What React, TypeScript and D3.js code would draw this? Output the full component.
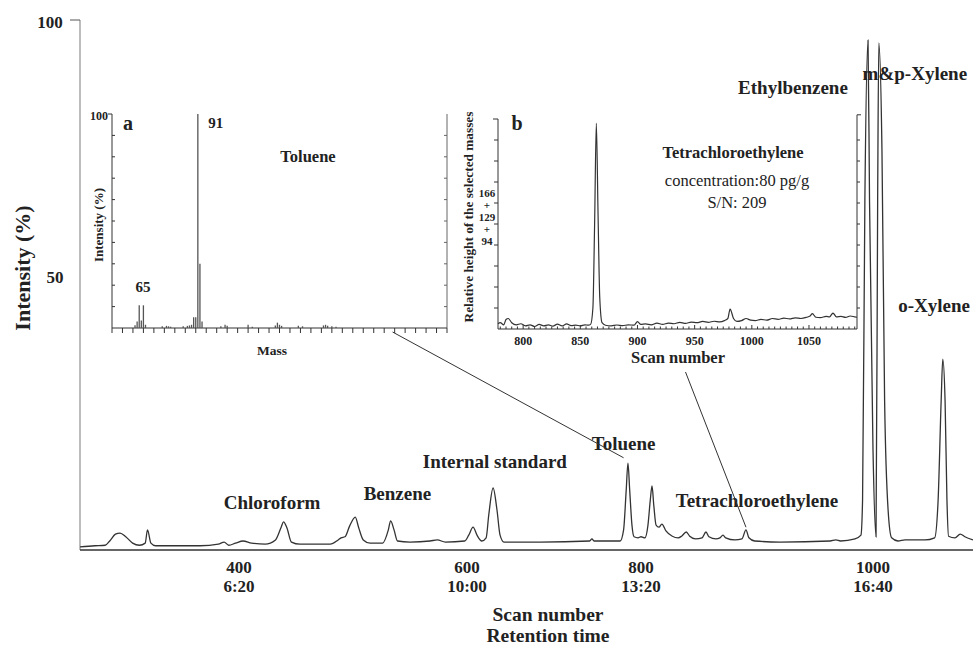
import React, { useEffect, useRef } from 'react';
import * as d3 from 'd3';

// total ion chromatogram, [scan number, intensity %]
const chromatogram: [number, number][] = [
  [261, 0.6], [274, 0.8], [283, 0.9], [287, 1.7], [292, 3.0], [296, 3.2], [301, 2.5], [307, 1.3], [313, 0.9],
  [318, 1.3], [320, 3.8], [323, 1.3], [327, 0.8], [366, 0.8], [382, 1.1], [387, 1.5], [391, 0.9], [397, 1.3],
  [403.5, 1.7], [411, 1.3], [423, 1.1], [432, 1.9], [437, 4.3], [439, 5.3], [442, 4.2], [446, 1.5], [453.5, 1.1],
  [480, 1.1], [487, 1.9], [489.5, 2.3], [493, 2.5], [497, 4.5], [502, 6.2], [505, 4.2], [509, 1.9], [515, 1.3],
  [526, 1.3], [531, 3.8], [533, 5.5], [536, 3.8], [539, 1.7], [550, 1.5], [567.5, 1.7], [574, 1.9], [581, 1.5], [598, 1.7],
  [602, 2.8], [607, 4.3], [611.5, 2.8], [617, 1.7], [622, 2.3], [625, 6.6], [630, 11.7], [634.5, 7.5], [638, 2.8], [642.5, 1.5],
  [684, 1.5], [741, 1.7], [743.6, 2.1], [746, 1.7], [776, 1.7], [780, 3.8], [783, 11.3], [785, 16.4], [787, 11.3], [789.6, 4.7],
  [792, 2.5], [796.6, 2.3], [800, 2.5], [803.4, 2.3], [806, 4.7], [808, 9.4], [809.5, 12.1], [811, 8.5], [813, 4.7], [815.5, 4.3],
  [818, 4.9], [821.5, 3.6], [827, 2.6], [832, 2.3], [835, 2.6], [839, 3.4], [842, 2.6], [847, 2.1], [852.6, 2.3], [856, 3.4],
  [858.6, 2.5], [864.6, 2.1], [868, 2.3], [870.7, 2.8], [873, 2.3], [881, 1.9], [887, 2.1], [890.5, 3.8], [893, 2.3], [898, 1.7],
  [920, 1.5], [963, 1.7], [968, 1.9], [972, 1.7], [984.5, 2.1], [989.6, 2.8], [991, 9.4], [993, 66], [995.7, 96.2], [997, 66],
  [1000, 18.9], [1002.6, 2.5], [1004, 66], [1005, 95.7], [1007.7, 75.5], [1010, 28], [1013, 7.5], [1016, 2.3], [1021.5, 1.7],
  [1027.5, 1.9], [1044.7, 1.9], [1053, 2.3], [1056, 9.4], [1058.6, 28], [1060, 36], [1062, 28], [1063.6, 9.4], [1065, 2.6],
  [1070.5, 2.3], [1075, 3.0], [1079, 2.5], [1086, 1.9],
];

const scanTicks = [400, 600, 800, 1000];
const timeTicks = ['6:20', '10:00', '13:20', '16:40'];

// compound names with the spot (scan, %) where the name sits
const peakNames: { name: string; scan: number; value: number }[] = [
  { name: 'Chloroform', scan: 429, value: 8.9 },
  { name: 'Benzene', scan: 539, value: 10.6 },
  { name: 'Internal standard', scan: 632, value: 16.8 },
  { name: 'Toluene', scan: 780, value: 20.2 },
  { name: 'Tetrachloroethylene', scan: 900, value: 9.4 },
  { name: 'Ethylbenzene', scan: 931, value: 87.2 },
  { name: 'm&p-Xylene', scan: 1036, value: 90 },
  { name: 'o-Xylene', scan: 1052.5, value: 46.2 },
];

// inset a: toluene mass spectrum
const masses = [61, 62, 63, 64, 65, 66, 74, 76, 77, 78, 84, 86, 87, 88, 89, 90, 91, 92, 93, 102, 104, 105,
  115, 117, 128, 129, 130, 131, 139, 141, 151, 152, 153, 155, 157];
const massIntensity = [1.3, 3, 10.6, 3.5, 10.6, 1.5, 0.8, 1, 0.8, 0.6, 0.8, 1, 1.2, 1.5, 5, 5, 100, 30, 3, 0.8, 1.5, 1,
  1.5, 0.6, 1.2, 2.5, 1.5, 1, 1, 0.8, 1.2, 1.5, 1, 0.8, 0.6];

// inset b: selected ion trace (166+129+94), [scan, relative height]
const ionTrace: [number, number][] = [
  [778, 2.5], [780, 3], [783, 2], [785, 4.5], [787, 5], [790, 3], [794, 2], [798, 2.5], [802, 1.5], [806, 2],
  [810, 1.2], [814, 2.2], [818, 1.5], [822, 2], [826, 1.4], [830, 2.3], [834, 1.5], [838, 2.4], [842, 1.6], [846, 1.8],
  [850, 1.5], [854, 2], [857, 1.8], [859, 2.2], [861, 10], [862.5, 50], [864, 98], [865.5, 55], [867, 15], [869, 3],
  [872, 1.8], [877, 1.5], [882, 1.9], [887, 1.6], [892, 2], [897, 1.8], [900, 3.5], [903, 2.2], [907, 2.4], [912, 2],
  [917, 2.8], [922, 2.2], [927, 2.8], [932, 2.5], [937, 3.2], [942, 2.7], [947, 3.3], [952, 3], [957, 3.6], [962, 3.2],
  [967, 3.7], [972, 3.4], [976, 4], [979, 5], [981, 9.5], [984, 5], [987, 3.6], [991, 4], [995, 5], [999, 4.2],
  [1003, 4], [1008, 4.6], [1013, 4.2], [1018, 5], [1023, 4.6], [1028, 5.2], [1033, 4.8], [1038, 5.3], [1043, 5],
  [1048, 5.6], [1051, 6.2], [1053, 7.3], [1056, 5.6], [1060, 5.4], [1065, 6], [1068, 5.8], [1071, 7.6], [1074, 5.8],
  [1078, 6], [1082, 5.5], [1086, 6.2], [1090, 5.8], [1092, 5.6],
];
const ionScanTicks = [800, 850, 900, 950, 1000, 1050];
const selectedMasses = ['166', '+', '129', '+', '94'];

const serif = '"Liberation Serif", "Times New Roman", serif';

const App = () => {
  const svgRef = useRef<SVGSVGElement>(null);

  useEffect(() => {
    const svg = d3.select(svgRef.current);
    svg.selectAll('*').remove();

    const text = (x: number, y: number, s: string, size: number, opts: any = {}) =>
      svg.append('text')
        .attr('x', x)
        .attr('y', y)
        .attr('dy', '0.35em')
        .attr('text-anchor', opts.anchor || 'middle')
        .attr('font-family', serif)
        .attr('font-weight', opts.weight || 'bold')
        .attr('font-size', size)
        .attr('fill', opts.fill || '#222')
        .attr('transform', opts.rotate ? `rotate(-90, ${x}, ${y})` : null)
        .text(s);

    // ---- main chromatogram ----
    const x = d3.scaleLinear()
      .domain([261, 400, 600, 800, 1000, 1086])
      .range([80, 239, 467, 641, 873, 973]);
    const y = d3.scaleLinear().domain([0, 100]).range([550, 20]);

    svg.append('line')
      .attr('x1', x(261)).attr('x2', x(261))
      .attr('y1', y(100)).attr('y2', y(0))
      .attr('stroke', '#999').attr('stroke-width', 1.3);
    svg.append('line')
      .attr('x1', x(261) - 10).attr('x2', x(261))
      .attr('y1', y(100)).attr('y2', y(100))
      .attr('stroke', '#555').attr('stroke-width', 1);
    svg.append('line')
      .attr('x1', x(261)).attr('x2', x(1086))
      .attr('y1', y(0)).attr('y2', y(0))
      .attr('stroke', '#333').attr('stroke-width', 1.3);

    text(x(261) - 30, y(100) + 2, '100', 17);
    text(x(261) - 25, y(50) - 8, '50', 17);
    text(22, 268, 'Intensity (%)', 22, { rotate: true });

    scanTicks.forEach((s, i) => {
      text(x(s), 567, String(s), 17);
      text(x(s), 586, timeTicks[i], 17);
    });
    text(548, 614, 'Scan number', 19.5);
    text(548, 635, 'Retention time', 19.5);

    const line = d3.line<[number, number]>()
      .x(d => x(d[0]))
      .y(d => y(d[1]))
      .curve(d3.curveMonotoneX);

    svg.append('path')
      .datum(chromatogram)
      .attr('d', line)
      .attr('fill', 'none')
      .attr('stroke', '#333')
      .attr('stroke-width', 1.3);

    peakNames.forEach(p => text(x(p.scan), y(p.value), p.name, 19));

    // ---- inset a: mass spectrum ----
    const ax = d3.scaleLinear().domain([50, 210]).range([112, 447]);
    const ay = d3.scaleLinear().domain([0, 100]).range([328, 114]);

    const ga = svg.append('g').attr('stroke', '#333').attr('stroke-width', 1);
    ga.append('line').attr('x1', ax(50)).attr('x2', ax(50)).attr('y1', ay(100)).attr('y2', ay(0));
    ga.append('line').attr('x1', ax(210)).attr('x2', ax(210)).attr('y1', ay(100)).attr('y2', ay(0)).attr('stroke', '#666');
    ga.append('line').attr('x1', ax(50)).attr('x2', ax(210)).attr('y1', ay(0)).attr('y2', ay(0));
    ga.append('line').attr('x1', ax(50) - 4).attr('x2', ax(50)).attr('y1', ay(100)).attr('y2', ay(100));
    d3.range(10, 100, 10).forEach(v => {
      ga.append('line').attr('x1', ax(50)).attr('x2', ax(50) + 3).attr('y1', ay(v)).attr('y2', ay(v));
      ga.append('line').attr('x1', ax(210) - 3).attr('x2', ax(210)).attr('y1', ay(v)).attr('y2', ay(v)).attr('stroke', '#666');
    });
    d3.range(50, 211, 5).forEach(m => {
      ga.append('line').attr('x1', ax(m)).attr('x2', ax(m)).attr('y1', ay(0)).attr('y2', ay(0) + 5);
    });

    svg.append('g')
      .selectAll('line')
      .data(masses)
      .enter()
      .append('line')
      .attr('x1', d => ax(d))
      .attr('x2', d => ax(d))
      .attr('y1', ay(0))
      .attr('y2', (d, i) => ay(massIntensity[i]))
      .attr('stroke', '#555')
      .attr('stroke-width', 1.3);

    text(ax(50) - 13, ay(100) + 2, '100', 12);
    text(128, 123, 'a', 20);
    text(ax(91) + 18, 123, '91', 15);
    text(ax(65) - 0.5, 287, '65', 15);
    text(308, 156, 'Toluene', 16.5);
    text(98, 225, 'Intensity (%)', 13, { rotate: true });
    text(272, 350, 'Mass', 13.5);

    // ---- inset b: selected ion trace ----
    const bx = d3.scaleLinear().domain([778, 1092]).range([498, 857]);
    const by = d3.scaleLinear().domain([0, 100]).range([329, 119]);

    const gb = svg.append('g').attr('stroke', '#333').attr('stroke-width', 1);
    gb.append('line').attr('x1', bx(778)).attr('x2', bx(778)).attr('y1', by(100)).attr('y2', by(0));
    gb.append('line').attr('x1', bx(1092)).attr('x2', bx(1092)).attr('y1', by(102)).attr('y2', by(0));
    gb.append('line').attr('x1', bx(778)).attr('x2', bx(1092)).attr('y1', by(0)).attr('y2', by(0));
    gb.append('line').attr('x1', bx(778) - 5).attr('x2', bx(778)).attr('y1', by(100)).attr('y2', by(100));
    gb.append('line').attr('x1', bx(1092)).attr('x2', bx(1092) + 4).attr('y1', by(102)).attr('y2', by(102));
    d3.range(10, 100, 10).forEach(v => {
      gb.append('line').attr('x1', bx(778) - 4).attr('x2', bx(778)).attr('y1', by(v)).attr('y2', by(v));
      gb.append('line').attr('x1', bx(1092)).attr('x2', bx(1092) + 3).attr('y1', by(v)).attr('y2', by(v));
    });
    d3.range(780, 1092, 5).forEach(s => {
      gb.append('line').attr('x1', bx(s)).attr('x2', bx(s)).attr('y1', by(0)).attr('y2', by(0) - (s % 50 === 0 ? 4 : 2.5));
    });

    const ionLine = d3.line<[number, number]>()
      .x(d => bx(d[0]))
      .y(d => by(d[1]))
      .curve(d3.curveMonotoneX);

    svg.append('path')
      .datum(ionTrace)
      .attr('d', ionLine)
      .attr('fill', 'none')
      .attr('stroke', '#333')
      .attr('stroke-width', 1.2);

    ionScanTicks.forEach(s => text(bx(s), 341, String(s), 12));
    text(678, 357, 'Scan number', 16.5);
    text(517, 123, 'b', 20);
    text(733, 152, 'Tetrachloroethylene', 16.5);
    text(737, 180, 'concentration:80 pg/g', 16.5, { weight: 'normal' });
    text(737, 202, 'S/N: 209', 16.5, { weight: 'normal' });
    text(468, 217, 'Relative height of the selected masses', 13.3, { rotate: true });
    selectedMasses.forEach((m, i) => text(487, 193 + i * 12, m, 11));

    // ---- leader lines from the insets to their peaks ----
    const leaders = [
      { from: [ax(184), ay(0) + 4], to: [x(780), y(17.4)] },
      { from: [bx(942), 372], to: [x(890.5), y(4.3)] },
    ];
    leaders.forEach(l => {
      svg.append('line')
        .attr('x1', l.from[0]).attr('y1', l.from[1])
        .attr('x2', l.to[0]).attr('y2', l.to[1])
        .attr('stroke', '#333')
        .attr('stroke-width', 1);
    });
  }, []);

  return (
    <svg
      ref={svgRef}
      width={973}
      height={647}
      style={{ position: 'absolute', left: 0, top: 0, background: '#fff' }}
    />
  );
};

export default App;
